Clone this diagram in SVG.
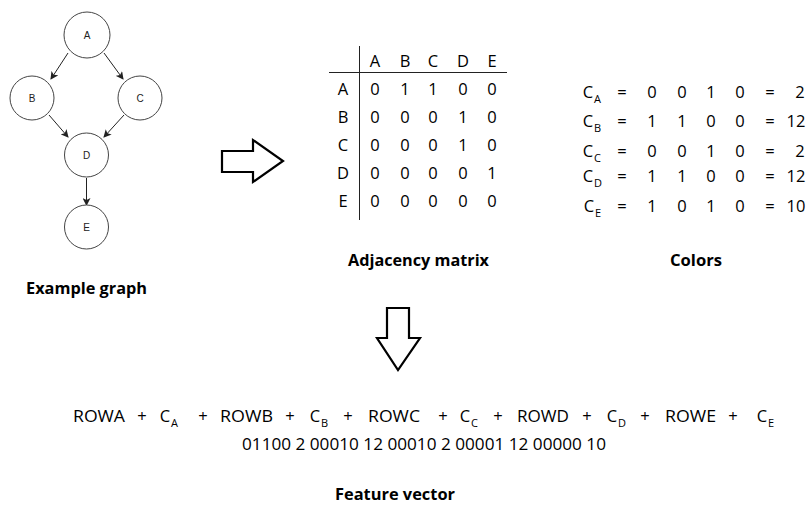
<svg xmlns="http://www.w3.org/2000/svg" width="809" height="506" viewBox="0 0 809 506">
  <style>
    .node circle { fill: #fff; stroke: #444; stroke-width: 1; }
    .node text { font-family: "Liberation Sans", Arial, sans-serif; font-size: 10px; fill: #222; text-anchor: middle; }
    .edge { stroke: #222; stroke-width: 1; fill: none; marker-end: url(#head); }
    .t { font-family: "Open Sans", "Noto Sans", sans-serif; font-size: 16.5px; fill: #000; }
    .m { text-anchor: middle; }
    .sub { font-family: "Open Sans", "Noto Sans", sans-serif; font-size: 11px; fill: #000; }
    .cap { font-family: "Open Sans", "Noto Sans", sans-serif; font-size: 16px; font-weight: bold; fill: #000; }
    .big { fill: #fff; stroke: #000; stroke-width: 2.2; stroke-linejoin: miter; }
    .grid { stroke: #222; stroke-width: 1; }
  </style>
  <defs>
    <marker id="head" markerWidth="8" markerHeight="8" refX="7" refY="4" orient="auto" markerUnits="userSpaceOnUse">
      <path d="M0,0 L8,4 L0,8 L2,4 Z" fill="#222"/>
    </marker>
  </defs>
  <rect width="809" height="506" fill="#fff"/>

  <!-- example graph edges -->
  <g id="connectors">
    <line class="edge" x1="68" y1="53" x2="51" y2="79"/>
    <line class="edge" x1="104" y1="53" x2="123" y2="79"/>
    <line class="edge" x1="49" y1="115" x2="68" y2="137"/>
    <line class="edge" x1="124" y1="115" x2="104" y2="137"/>
    <line class="edge" x1="86.5" y1="178" x2="86.5" y2="205"/>
  </g>

  <!-- example graph nodes -->
  <g id="node-A" class="node"><circle cx="87" cy="35" r="23"/><text x="87" y="39">A</text></g>
  <g id="node-B" class="node"><circle cx="32" cy="98" r="22"/><text x="32" y="102">B</text></g>
  <g id="node-C" class="node"><circle cx="140" cy="98" r="22"/><text x="140" y="102">C</text></g>
  <g id="node-D" class="node"><circle cx="86.5" cy="155" r="22"/><text x="86.5" y="159">D</text></g>
  <g id="node-E" class="node"><circle cx="86.5" cy="227" r="22"/><text x="86.5" y="231">E</text></g>

  <text class="cap" x="26" y="294" textLength="121" lengthAdjust="spacingAndGlyphs">Example graph</text>

  <!-- block arrows -->
  <path class="big" d="M222,151 H253 V140 L283,161 L253,182 V172 H222 Z"/>
  <path class="big" d="M387,308 H409 V338 H420 L398,370 L377,338 H387 Z"/>

  <!-- adjacency matrix -->
  <g id="matrix">
    <line class="grid" x1="359.5" y1="46" x2="359.5" y2="220"/>
    <line class="grid" x1="329" y1="72.5" x2="507" y2="72.5"/>
    <g class="t m">
      <text x="375" y="67">A</text><text x="405" y="67">B</text><text x="433" y="67">C</text><text x="463" y="67">D</text><text x="492" y="67">E</text>
      <text x="343" y="95">A</text><text x="343" y="123">B</text><text x="343" y="151">C</text><text x="343" y="179">D</text><text x="343" y="207">E</text>
      <text x="375" y="95">0</text><text x="405" y="95">1</text><text x="433" y="95">1</text><text x="463" y="95">0</text><text x="492" y="95">0</text>
      <text x="375" y="123">0</text><text x="405" y="123">0</text><text x="433" y="123">0</text><text x="463" y="123">1</text><text x="492" y="123">0</text>
      <text x="375" y="151">0</text><text x="405" y="151">0</text><text x="433" y="151">0</text><text x="463" y="151">1</text><text x="492" y="151">0</text>
      <text x="375" y="179">0</text><text x="405" y="179">0</text><text x="433" y="179">0</text><text x="463" y="179">0</text><text x="492" y="179">1</text>
      <text x="375" y="207">0</text><text x="405" y="207">0</text><text x="433" y="207">0</text><text x="463" y="207">0</text><text x="492" y="207">0</text>
    </g>
  </g>
  <text class="cap" x="348" y="266" textLength="141" lengthAdjust="spacingAndGlyphs">Adjacency matrix</text>

  <!-- colors -->
  <g id="colors">
    <g class="t m">
      <text x="588" y="98">C</text><text x="622" y="98">=</text><text x="652" y="98">0</text><text x="682" y="98">0</text><text x="711" y="98">1</text><text x="740" y="98">0</text><text x="770" y="98">=</text><text x="800" y="98">2</text>
      <text x="588" y="127">C</text><text x="622" y="127">=</text><text x="652" y="127">1</text><text x="682" y="127">1</text><text x="711" y="127">0</text><text x="740" y="127">0</text><text x="770" y="127">=</text><text x="796" y="127">12</text>
      <text x="588" y="157">C</text><text x="622" y="157">=</text><text x="652" y="157">0</text><text x="682" y="157">0</text><text x="711" y="157">1</text><text x="740" y="157">0</text><text x="770" y="157">=</text><text x="800" y="157">2</text>
      <text x="588" y="182">C</text><text x="622" y="182">=</text><text x="652" y="182">1</text><text x="682" y="182">1</text><text x="711" y="182">0</text><text x="740" y="182">0</text><text x="770" y="182">=</text><text x="796" y="182">12</text>
      <text x="589" y="212">C</text><text x="622" y="212">=</text><text x="652" y="212">1</text><text x="682" y="212">0</text><text x="711" y="212">1</text><text x="740" y="212">0</text><text x="770" y="212">=</text><text x="796" y="212">10</text>
    </g>
    <g class="sub">
      <text x="594" y="103">A</text>
      <text x="594" y="132">B</text>
      <text x="594" y="162">C</text>
      <text x="594" y="187">D</text>
      <text x="595" y="217">E</text>
    </g>
  </g>
  <text class="cap" x="670" y="266" textLength="52" lengthAdjust="spacingAndGlyphs">Colors</text>

  <!-- feature vector -->
  <g id="formula" class="t">
    <text x="73" y="422" textLength="52" lengthAdjust="spacingAndGlyphs">ROWA</text>
    <text x="142" y="422" class="m">+</text>
    <text x="165" y="422" class="m">C</text><text class="sub" x="171" y="427">A</text>
    <text x="203" y="422" class="m">+</text>
    <text x="220" y="422" textLength="53" lengthAdjust="spacingAndGlyphs">ROWB</text>
    <text x="290" y="422" class="m">+</text>
    <text x="315" y="422" class="m">C</text><text class="sub" x="321" y="427">B</text>
    <text x="348" y="422" class="m">+</text>
    <text x="368" y="422" textLength="52" lengthAdjust="spacingAndGlyphs">ROWC</text>
    <text x="443" y="422" class="m">+</text>
    <text x="465" y="422" class="m">C</text><text class="sub" x="471" y="427">C</text>
    <text x="498" y="422" class="m">+</text>
    <text x="517" y="422" textLength="52" lengthAdjust="spacingAndGlyphs">ROWD</text>
    <text x="587" y="422" class="m">+</text>
    <text x="612" y="422" class="m">C</text><text class="sub" x="618" y="427">D</text>
    <text x="645" y="422" class="m">+</text>
    <text x="665" y="422" textLength="51" lengthAdjust="spacingAndGlyphs">ROWE</text>
    <text x="733" y="422" class="m">+</text>
    <text x="762" y="422" class="m">C</text><text class="sub" x="768" y="427">E</text>
    <text x="242" y="450" textLength="364" lengthAdjust="spacingAndGlyphs">01100 2 00010 12 00010 2 00001 12 00000 10</text>
  </g>
  <text class="cap" x="335" y="500" textLength="120" lengthAdjust="spacingAndGlyphs">Feature vector</text>
</svg>
